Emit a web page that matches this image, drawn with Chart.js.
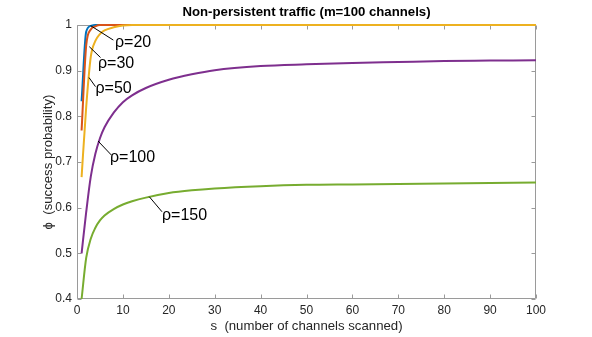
<!DOCTYPE html>
<html><head><meta charset="utf-8">
<script src="https://cdn.jsdelivr.net/npm/chart.js@4"></script>
<style>html,body{margin:0;padding:0;background:#fff}#wrap{width:592px;height:337px;position:relative}</style>
</head><body><div id="wrap"><canvas id="c"></canvas></div>
<script>
// ---- data ----
const sValues   = [1, 2, 3, 4, 5, 6, 8, 10, 12, 15, 20, 25, 30, 40, 50, 60, 70, 80, 90, 100];
const seriesLabels = ['ρ=20', 'ρ=30', 'ρ=50', 'ρ=100', 'ρ=150'];
const phiRho20  = [0.833, 0.985, 0.998, 1, 1, 1, 1, 1, 1, 1, 1, 1, 1, 1, 1, 1, 1, 1, 1, 1];
const phiRho30  = [0.769, 0.955, 0.990, 0.997, 1, 1, 1, 1, 1, 1, 1, 1, 1, 1, 1, 1, 1, 1, 1, 1];
const phiRho50  = [0.667, 0.820, 0.930, 0.965, 0.980, 0.988, 0.995, 0.999, 1, 1, 1, 1, 1, 1, 1, 1, 1, 1, 1, 1];
const phiRho100 = [0.500, 0.590, 0.668, 0.718, 0.752, 0.776, 0.808, 0.831, 0.846, 0.862, 0.880, 0.892, 0.901, 0.910, 0.914, 0.917, 0.919, 0.921, 0.922, 0.923];
const phiRho150 = [0.400, 0.490, 0.532, 0.556, 0.572, 0.583, 0.597, 0.607, 0.614, 0.622, 0.632, 0.638, 0.642, 0.647, 0.650, 0.651, 0.652, 0.653, 0.654, 0.655];
const xTicks = [0, 10, 20, 30, 40, 50, 60, 70, 80, 90, 100];
const yTicks = [0.4, 0.5, 0.6, 0.7, 0.8, 0.9, 1];
const titleText = 'Non-persistent traffic (m=100 channels)';
const xTitle = 's  (number of channels scanned)';
const yTitle = 'ϕ  (success probability)';

// ---- styling / label placement ----
const colors = ['#0072BD', '#D95319', '#EDB120', '#7E2F8E', '#77AC30'];
const labelPlacement = [
  {line: [[2.98, 0.9985], [7.91, 0.967]], text: [8.28, 0.9518]},
  {line: [[2.68, 0.9525], [5.12, 0.9288]], text: [4.58, 0.9058]},
  {line: [[2.61, 0.885], [4.03, 0.865]], text: [4.03, 0.851]},
  {line: [[4.58, 0.746], [7.47, 0.7154]], text: [7.19, 0.701]},
  {line: [[15.75, 0.624], [18.52, 0.591]], text: [18.52, 0.573]}
];

const allSeries = [phiRho20, phiRho30, phiRho50, phiRho100, phiRho150];
const datasets = allSeries.map((vals, i) => ({
  label: seriesLabels[i],
  data: sValues.map((s, k) => ({x: s, y: vals[k]})),
  borderColor: colors[i],
  backgroundColor: colors[i],
  borderWidth: 2,
  pointRadius: 0,
  fill: false,
  cubicInterpolationMode: 'monotone',
  clip: false,
  order: allSeries.length - i
}));

const FONT = "'Liberation Sans', Arial, Helvetica, sans-serif";
const axisColor = '#9a9a9a';

const overlay = {
  id: 'overlay',
  beforeDatasetsDraw(chart) {
    const {ctx, chartArea: a, scales: {x, y}} = chart;
    ctx.save();
    ctx.strokeStyle = axisColor;
    ctx.lineWidth = 1;
    const L = Math.round(a.left) + 0.5, R = Math.round(a.right) - 0.5;
    const T = Math.round(a.top) + 0.5, B = Math.round(a.bottom) - 0.5;
    ctx.beginPath();
    ctx.moveTo(L, T); ctx.lineTo(R, T); ctx.lineTo(R, B); ctx.lineTo(L, B); ctx.closePath();
    ctx.stroke();
    const tl = 4;
    ctx.beginPath();
    xTicks.forEach(v => {
      const px = Math.round(x.getPixelForValue(v)) + 0.5;
      ctx.moveTo(px, B); ctx.lineTo(px, B - tl);
      ctx.moveTo(px, T); ctx.lineTo(px, T + tl);
    });
    yTicks.forEach(v => {
      const py = Math.round(y.getPixelForValue(v)) + 0.5;
      ctx.moveTo(L, py); ctx.lineTo(L + tl, py);
      ctx.moveTo(R, py); ctx.lineTo(R - tl, py);
    });
    ctx.stroke();
    ctx.restore();
  },
  afterDatasetsDraw(chart) {
    const {ctx, scales: {x, y}} = chart;
    ctx.save();
    ctx.strokeStyle = '#000';
    ctx.lineWidth = 1;
    ctx.fillStyle = '#000';
    ctx.font = '16px ' + FONT;
    ctx.textAlign = 'left';
    ctx.textBaseline = 'alphabetic';
    labelPlacement.forEach((p, i) => {
      ctx.beginPath();
      ctx.moveTo(x.getPixelForValue(p.line[0][0]), y.getPixelForValue(p.line[0][1]));
      ctx.lineTo(x.getPixelForValue(p.line[1][0]), y.getPixelForValue(p.line[1][1]));
      ctx.stroke();
      ctx.fillText(seriesLabels[i], x.getPixelForValue(p.text[0]), y.getPixelForValue(p.text[1]));
    });
    ctx.restore();
  }
};

new Chart(document.getElementById('c'), {
  type: 'line',
  data: {datasets},
  options: {
    responsive: true,
    maintainAspectRatio: false,
    animation: false,
    events: [],
    layout: {padding: {left: 0, right: 56, top: 0, bottom: 0}},
    plugins: {
      legend: {display: false},
      tooltip: {enabled: false},
      title: {
        display: true,
        text: titleText,
        fullSize: false,
        color: '#000',
        font: {family: FONT, size: 13.2, weight: 'bold', lineHeight: 1.2},
        padding: {top: 4, bottom: 5.16}
      }
    },
    scales: {
      x: {
        type: 'linear',
        min: 0, max: 100,
        afterFit: s => { s.height = 38; },
        afterBuildTicks: s => { s.ticks = xTicks.map(v => ({value: v})); },
        grid: {display: false, drawTicks: false},
        border: {display: false},
        ticks: {color: '#262626', font: {family: FONT, size: 12}, padding: 4, maxRotation: 0,
                callback: v => String(v)},
        title: {display: true, text: xTitle, color: '#262626',
                font: {family: FONT, size: 13.2}, padding: {top: 0, bottom: 3}}
      },
      y: {
        type: 'linear',
        min: 0.4, max: 1,
        afterFit: s => { s.width = 77; },
        afterBuildTicks: s => { s.ticks = yTicks.map(v => ({value: v})); },
        grid: {display: false, drawTicks: false},
        border: {display: false},
        ticks: {color: '#262626', font: {family: FONT, size: 12}, padding: 5,
                callback: v => String(Number(v.toFixed(1)))},
        title: {display: true, text: yTitle, color: '#262626',
                font: {family: FONT, size: 13.2}, padding: {top: 40, bottom: 0}}
      }
    }
  },
  plugins: [overlay]
});
</script>
</body></html>
